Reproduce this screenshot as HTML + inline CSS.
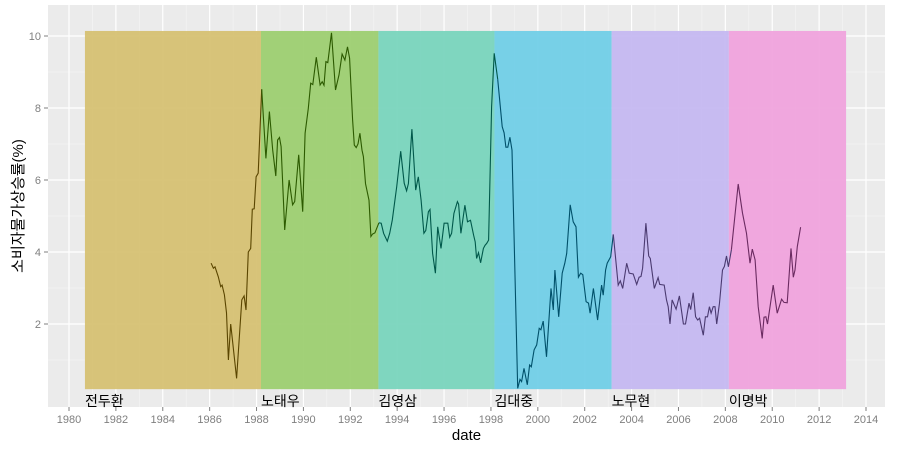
<!DOCTYPE html>
<html><head><meta charset="utf-8"><style>
body{margin:0;background:#fff;}
svg text{font-family:"Liberation Sans","Noto Sans CJK KR",sans-serif;}
</style></head><body>
<svg id="chart" width="900" height="450"></svg>
<script>
const termNames=["전두환","노태우","김영삼","김대중","노무현","이명박"];
const termStarts=[1980.68,1988.19,1993.2,1998.15,2003.15,2008.15];
const termEnds=[1988.19,1993.2,1998.15,2003.15,2008.15,2013.15];
const termFills=["#d5bf70","#9bce6e","#76d4bb","#6ecde6","#c4b7f1","#f0a1dd"];
const termLines=["#5a4500","#2c5a00","#00584a","#00506a","#4a3a70","#6a2a60"];
const yTicks=[2,4,6,8,10];
const xTicks=[1980,1982,1984,1986,1988,1990,1992,1994,1996,1998,2000,2002,2004,2006,2008,2010,2012,2014];
const dates=[1986.06,1986.16,1986.23,1986.37,1986.47,1986.53,1986.63,1986.72,1986.8,1986.9,1987.15,1987.37,1987.47,1987.55,1987.65,1987.75,1987.82,1987.9,1987.98,1988.07,1988.22,1988.4,1988.55,1988.69,1988.82,1988.9,1988.98,1989.05,1989.2,1989.39,1989.54,1989.63,1989.8,1989.97,1990.07,1990.21,1990.31,1990.4,1990.55,1990.71,1990.8,1990.88,1990.96,1991.04,1991.2,1991.37,1991.52,1991.65,1991.77,1991.88,1991.97,1992.1,1992.17,1992.25,1992.33,1992.41,1992.5,1992.56,1992.65,1992.8,1992.88,1992.95,1993.05,1993.22,1993.32,1993.42,1993.58,1993.68,1993.79,1993.98,1994.15,1994.3,1994.4,1994.48,1994.63,1994.79,1994.9,1995.02,1995.14,1995.22,1995.33,1995.4,1995.51,1995.63,1995.73,1995.87,1996.0,1996.16,1996.24,1996.32,1996.42,1996.57,1996.62,1996.72,1996.89,1997.0,1997.13,1997.26,1997.33,1997.39,1997.47,1997.56,1997.68,1997.75,1997.82,1997.9,1998.03,1998.14,1998.29,1998.48,1998.56,1998.64,1998.72,1998.81,1998.9,1999.14,1999.24,1999.31,1999.41,1999.55,1999.65,1999.72,1999.84,1999.95,2000.06,2000.13,2000.23,2000.37,2000.56,2000.66,2000.73,2000.89,2001.04,2001.15,2001.23,2001.38,2001.51,2001.63,2001.73,2001.83,2001.92,2002.06,2002.16,2002.23,2002.37,2002.55,2002.72,2002.79,2002.89,2002.96,2003.11,2003.22,2003.43,2003.52,2003.62,2003.79,2003.9,2004.07,2004.22,2004.32,2004.4,2004.47,2004.61,2004.73,2004.8,2004.97,2005.13,2005.2,2005.39,2005.49,2005.56,2005.64,2005.73,2005.9,2006.04,2006.21,2006.3,2006.45,2006.52,2006.63,2006.73,2006.82,2006.9,2007.06,2007.15,2007.24,2007.32,2007.39,2007.48,2007.56,2007.63,2007.75,2007.88,2007.96,2008.05,2008.13,2008.26,2008.55,2008.73,2008.9,2009.05,2009.15,2009.27,2009.4,2009.57,2009.65,2009.73,2009.8,2010.04,2010.21,2010.4,2010.5,2010.64,2010.8,2010.9,2010.97,2011.07,2011.21];
const values=[3.69,3.55,3.59,3.31,3.04,3.08,2.81,2.31,1.0,2.0,0.49,2.67,2.78,2.39,4.0,4.1,5.19,5.2,6.09,6.19,8.52,6.6,7.9,6.83,6.11,7.11,7.18,6.93,4.61,6.0,5.31,5.4,6.7,5.12,7.3,7.99,8.69,8.65,9.41,8.64,8.73,8.63,9.29,9.26,10.09,8.5,8.92,9.5,9.33,9.7,9.38,7.67,6.97,6.9,7.0,7.3,6.83,6.65,5.9,5.44,4.43,4.5,4.53,4.81,4.8,4.52,4.3,4.52,4.89,5.81,6.8,5.91,5.7,5.9,7.41,5.72,6.09,5.44,4.52,4.6,5.12,5.18,3.96,3.41,4.7,4.1,4.8,4.8,4.41,4.52,5.07,5.4,5.33,4.52,5.3,4.84,4.88,4.47,4.28,3.82,3.98,3.7,4.1,4.19,4.24,4.33,8.04,9.52,8.8,7.48,7.31,6.91,6.91,7.19,6.83,0.21,0.46,0.4,0.77,0.31,0.86,0.81,1.28,1.42,1.88,1.84,2.08,1.09,2.99,2.39,3.5,2.2,3.41,3.69,3.96,5.31,4.84,4.7,3.3,3.41,3.37,2.62,2.58,2.3,2.99,2.11,3.08,2.8,3.5,3.69,3.87,4.49,3.08,3.2,2.99,3.69,3.41,3.39,3.1,3.3,3.32,3.55,4.8,3.89,3.82,2.99,3.29,3.1,3.08,2.67,2.48,2.0,2.67,2.41,2.78,2.0,2.0,2.58,2.4,2.87,2.2,2.11,2.16,1.69,2.2,2.2,2.48,2.3,2.48,2.48,2.0,2.58,3.5,3.6,3.89,3.59,4.06,5.89,5.08,4.52,3.69,4.08,3.78,2.48,1.6,2.19,2.2,2.0,3.08,2.3,2.69,2.6,2.59,4.1,3.3,3.5,4.15,4.69];

const NS="http://www.w3.org/2000/svg";
const svg=document.getElementById('chart');
const L=48,R=885,T=5,B=407;
const xs=d=>69+(d-1980)*(866-69)/34;
const ys=v=>36+(10-v)*36;
function mk(tag,attrs,parent){const e=document.createElementNS(NS,tag);for(const k in attrs)e.setAttribute(k,attrs[k]);(parent||svg).appendChild(e);return e;}

const bg=mk('rect',{x:L,y:T,width:R-L,height:B-T,fill:'#ebebeb'});


// grid
for(let v=1;v<=10;v+=1){const y=ys(v);if(y<T||y>B)continue;
 const g=mk('line',{x1:L,x2:R,y1:y,y2:y,stroke:v%2?'#f5f5f5':'#ffffff','stroke-width':v%2?0.6:1.2});
 
 }
for(let yr=1979;yr<=2015;yr++){const x=xs(yr);if(x<L||x>R)continue;
 const g=mk('line',{x1:x,x2:x,y1:T,y2:B,stroke:yr%2?'#f5f5f5':'#ffffff','stroke-width':yr%2?0.6:1.2});
 
 }
// rects
termNames.forEach((n,i)=>{
 const r=mk('rect',{x:xs(termStarts[i]),y:ys(10.14),width:xs(termEnds[i])-xs(termStarts[i]),height:ys(0.19)-ys(10.14),fill:termFills[i],'fill-opacity':0.93});
 
 
});
// lines per term
termNames.forEach((n,i)=>{
 const pts=[];
 for(let k=0;k<dates.length;k++){
  if(dates[k]>=termStarts[i]-0.0001&&dates[k]<termEnds[i]){pts.push(xs(dates[k]).toFixed(1)+','+ys(values[k]).toFixed(1));}
  else if(dates[k]>=termEnds[i]&&pts.length){pts.push(xs(dates[k]).toFixed(1)+','+ys(values[k]).toFixed(1));break;}
 }
 if(pts.length<2)return;
 const p=mk('polyline',{points:pts.join(' '),fill:'none',stroke:termLines[i],'stroke-width':1.1});
 
 
});
// term labels
termNames.forEach((n,i)=>{
 const t=mk('text',{x:xs(termStarts[i]),y:ys(0)+10,'font-size':14,fill:'#000'});
 t.textContent=n;
 
 
});
// y ticks
yTicks.forEach(v=>{
 const tk=mk('line',{x1:L-4,x2:L,y1:ys(v),y2:ys(v),stroke:'#7f7f7f'});
 
 
 const t=mk('text',{x:L-7,y:ys(v)+4,'font-size':11,fill:'#7f7f7f','text-anchor':'end'});
 t.textContent=v;
 
 
});
xTicks.forEach(v=>{
 const tk=mk('line',{x1:xs(v),x2:xs(v),y1:B,y2:B+4,stroke:'#7f7f7f'});
 
 
 const t=mk('text',{x:xs(v),y:B+16,'font-size':11,fill:'#7f7f7f','text-anchor':'middle'});
 t.textContent=v;
 
 
});
const xt=mk('text',{x:(L+R)/2,y:440,'font-size':15,'text-anchor':'middle',fill:'#000'});
xt.textContent='date';


const yt=mk('text',{x:0,y:0,'font-size':15,'text-anchor':'middle',fill:'#000',transform:'translate(23,'+((T+B)/2)+') rotate(-90)'});
yt.textContent='소비자물가상승률(%)';


</script>
</body></html>
